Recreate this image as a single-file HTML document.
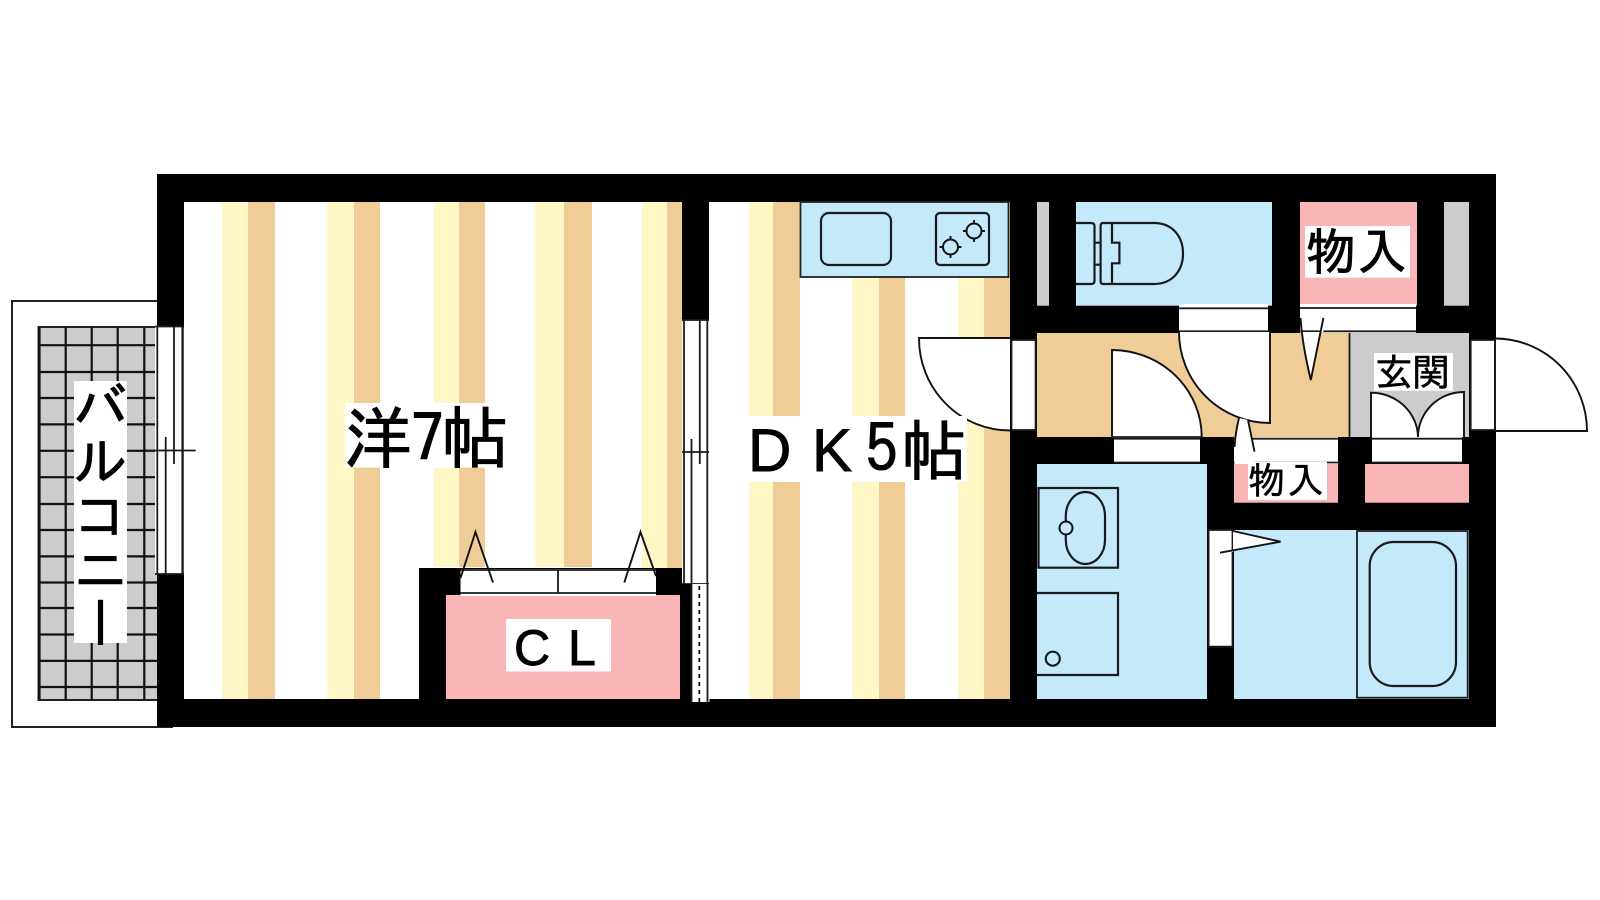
<!DOCTYPE html>
<html lang="ja">
<head>
<meta charset="utf-8">
<title>間取り図</title>
<style>
html,body{margin:0;padding:0;background:#fff;width:1600px;height:900px;overflow:hidden}
svg{display:block;position:absolute;left:0;top:0}
text{font-family:"IPAGothic","Liberation Sans","Noto Sans CJK JP",sans-serif;fill:#000;stroke:#000;stroke-width:.9}
.lat{font-family:"Liberation Sans","IPAGothic",sans-serif}
.s{stroke-width:.5}
.l{fill:none;stroke:#1a1a1a;stroke-width:1.8}
.w{fill:#fff;stroke:#111;stroke-width:1.8}
.k{fill:none;stroke:#111;stroke-width:1.9}
.b{fill:none;stroke:#1a1a1a;stroke-width:2.2}
</style>
</head>
<body>
<svg width="1600" height="900" viewBox="0 0 1600 900" xmlns="http://www.w3.org/2000/svg">
<rect width="1600" height="900" fill="#fff"/>

<!-- balcony -->
<rect x="12" y="301" width="160" height="426" fill="#fff" stroke="#222" stroke-width="2"/>
<rect x="38.5" y="327" width="120" height="373" fill="#ccc" stroke="#222" stroke-width="2"/>
<g stroke="#111" stroke-width="2.2">
<path d="M39.5 327V700M65.7 327V700M91.7 327V700M117.7 327V700M144.3 327V700"/>
<path d="M38 345.2H158M38 372H158M38 398H158M38 424.4H158M38 450.8H158M38 477.2H158M38 504H158M38 530H158M38 556.4H158M38 582.5H158M38 608H158M38 634.5H158M38 660.9H158M38 687H158"/>
</g>

<!-- outer walls -->
<rect x="157" y="174" width="1339" height="553" fill="#000"/>

<!-- west room + stripes -->
<rect x="184" y="202" width="498" height="497" fill="#fff"/>
<g fill="#fff8c6">
<rect x="222" y="202" width="26" height="497"/>
<rect x="327" y="202" width="27" height="497"/>
<rect x="434" y="202" width="25" height="365"/>
<rect x="535" y="202" width="29" height="365"/>
<rect x="642" y="202" width="25" height="366"/>
</g>
<g fill="#f0cc96">
<rect x="248" y="202" width="27" height="497"/>
<rect x="354" y="202" width="26" height="497"/>
<rect x="459" y="202" width="26" height="365"/>
<rect x="564" y="202" width="28" height="365"/>
<rect x="667" y="202" width="15" height="366"/>
</g>

<!-- DK room + stripes -->
<rect x="709" y="202" width="301" height="497" fill="#fff"/>
<rect x="749" y="202" width="24" height="497" fill="#fff8c6"/>
<rect x="773" y="202" width="27" height="497" fill="#f0cc96"/>
<rect x="852" y="202" width="27" height="497" fill="#fff8c6"/>
<rect x="879" y="202" width="26" height="497" fill="#f0cc96"/>
<rect x="958" y="202" width="26" height="497" fill="#fff8c6"/>
<rect x="984" y="202" width="26" height="497" fill="#f0cc96"/>

<!-- kitchen -->
<rect x="800.5" y="202" width="208" height="75" fill="#c3e9fb" stroke="#222" stroke-width="1.8"/>
<rect x="821" y="213" width="70" height="52" rx="8" class="b"/>
<rect x="936" y="213" width="53" height="52" rx="4" class="b"/>
<path d="M974 220V242M963 231H985M950.5 236V258M939.5 247H961.5" class="k"/>
<circle cx="974" cy="231" r="7.5" fill="#c3e9fb" stroke="#111" stroke-width="2"/>
<circle cx="950.5" cy="247" r="7.5" fill="#c3e9fb" stroke="#111" stroke-width="2"/>

<!-- closet CL -->
<rect x="419" y="568" width="263" height="131" fill="#000"/>
<rect x="446" y="595" width="234.7" height="104" fill="#fab6b7"/>
<rect x="460.5" y="569" width="195.5" height="27" fill="#fff"/>
<path d="M460.5 570H656M460.5 593H656M558 570V593" class="l"/>
<path d="M460.5 578 475.5 532 493 582.5" class="k"/>
<path d="M624.3 582.5 640.5 532 656 576" class="k"/>
<rect x="506" y="619" width="105" height="52.5" fill="#fff"/>
<text class="lat" x="514" y="665" font-size="50">C</text>
<text class="lat" x="568" y="665" font-size="50">L</text>

<!-- west window -->
<rect x="155" y="326.5" width="28.5" height="247.5" fill="#fff"/>
<path d="M157.3 326V574M182.3 326V574M155 326.5H183.5M155 574H183.5" class="l"/>
<path d="M174 326V464M165.7 437V574M145 450.5H195.7" class="l"/>

<!-- middle window -->
<rect x="682" y="320" width="27" height="264" fill="#fff"/>
<path d="M684 320V584M707.3 320V584M682 320H709M682 584H709" class="l"/>
<path d="M699.8 320V464M691.5 439V584M682 452H709" class="l"/>
<rect x="680" y="584" width="11.5" height="118" fill="#000"/>
<rect x="691.5" y="584" width="18" height="118" fill="#fff"/>
<path d="M691.5 584V702M707.5 584V702" class="l"/>
<path d="M699.3 586V702" stroke="#111" stroke-width="1.8" stroke-dasharray="4 4" fill="none"/>

<!-- upper right rooms -->
<rect x="1037" y="202" width="12" height="103.7" fill="#ccc"/>
<rect x="1076" y="202" width="196" height="103.7" fill="#c3e9fb"/>
<rect x="1300" y="202" width="117" height="103.7" fill="#fab6b7"/>
<rect x="1444" y="202" width="25" height="103.7" fill="#ccc"/>

<!-- toilet -->
<path d="M1076 223H1091Q1094.5 223 1094.5 226V281Q1094.5 284 1091 284H1076" class="b"/>
<path d="M1094.5 242.7H1100.6M1094.5 264.7H1100.6" class="b"/>
<path d="M1103 223H1154C1172 223 1183 236 1183 253.5C1183 271 1172 284 1154 284H1103Q1100.6 284 1100.6 281V226Q1100.6 223 1103 223Z" class="b"/>
<path d="M1112 223V242.7H1119.4V263.3H1112V284" class="b"/>

<!-- hall & entry -->
<rect x="1037" y="333" width="312" height="104" fill="#f0cc96"/>
<rect x="1350" y="333" width="119" height="104" fill="#ccc"/>
<path d="M1349.5 333V437" class="l"/>

<!-- doors: toilet -->
<rect x="1179" y="304" width="89" height="28" fill="#fff"/>
<path d="M1179 308.3H1268M1179 331.3H1270" class="l"/>
<path d="M1179 332A91 91 0 0 0 1270 423V332Z" fill="#fff"/>
<path d="M1179 332A91 91 0 0 0 1270 423V332" class="k"/>

<!-- doors: upper closet -->
<rect x="1300" y="304" width="116" height="29" fill="#fff"/>
<path d="M1300 308H1416M1300 331.3H1416" class="l"/>
<path d="M1300.5 318C1302 340 1306 360 1310.8 380L1323.4 318V332H1300.5Z" fill="#fff"/>
<path d="M1300.5 318C1302 340 1306 360 1310.8 380L1323.4 318" class="k"/>

<!-- wash room -->
<rect x="1037" y="464" width="170" height="235" fill="#c3e9fb"/>
<rect x="1038.5" y="488" width="79.5" height="79.7" class="b"/>
<rect x="1065.8" y="492" width="39.2" height="72" rx="19.6" ry="24" class="b"/>
<circle cx="1066" cy="528" r="6.5" fill="#c3e9fb" stroke="#111" stroke-width="2"/>
<path d="M1037 593H1118V675H1037" class="b"/>
<circle cx="1052.8" cy="658.7" r="7" class="b"/>

<!-- door: wash from hall -->
<rect x="1114" y="437" width="86" height="26" fill="#fff"/>
<path d="M1114 438.7H1200M1114 462.5H1200" class="l"/>
<path d="M1112 350A90 87 0 0 1 1201.7 437H1112Z" fill="#fff"/>
<path d="M1201.7 437A90 87 0 0 0 1112 350V437" class="k"/>
<path d="M1112 437H1201.7" class="l"/>

<!-- lower closets -->
<rect x="1234" y="437" width="104" height="27" fill="#fff"/>
<path d="M1234 438.7H1338M1234 462.5H1338" class="l"/>
<rect x="1234" y="464" width="104" height="38.7" fill="#fab6b7"/>
<rect x="1365" y="464" width="104" height="38.7" fill="#fab6b7"/>
<path d="M1234.5 447Q1235.5 432 1239 418L1248 420 1254.5 451.7V464H1234.5Z" fill="#fff"/>
<path d="M1234.5 447Q1235.5 432 1239 418M1248 420 1254.5 451.7" class="k"/>

<!-- entry double doors -->
<rect x="1372" y="437" width="90" height="26" fill="#fff"/>
<path d="M1372 438.7H1462M1372 462.5H1462" class="l"/>
<path d="M1371 392.7A47 45 0 0 1 1418 437H1371Z" fill="#fff"/>
<path d="M1464 392A46 45 0 0 0 1418 437H1464Z" fill="#fff"/>
<path d="M1371 437V392.7A47 45 0 0 1 1418 437A46 45 0 0 1 1464 392V437" class="k"/>

<!-- bath -->
<rect x="1234" y="530" width="235" height="169" fill="#c3e9fb"/>
<rect x="1357" y="531" width="110.7" height="166.7" class="l"/>
<rect x="1369.7" y="542" width="86.3" height="144" rx="24" class="b"/>
<rect x="1208.6" y="530" width="24" height="116.7" fill="#fff"/>
<path d="M1208.6 530V646.7H1232.5V530M1207 530H1233" class="l"/>
<path d="M1233 531 1280.5 541.7 1220 552.7 1233 552Z" fill="#fff"/>
<path d="M1233 531 1280.5 541.7 1220 552.7" class="k"/>

<!-- DK door -->
<rect x="1011" y="340" width="25" height="90" fill="#fff"/>
<path d="M1011.5 340V430.5M1035.6 340V430M1011 340H1036M1011 430H1036" class="l"/>
<path d="M919 338H1010V430.5A91 92 0 0 1 919 338Z" fill="#fff"/>
<path d="M1010 338H919A91 92 0 0 0 1010 430.5" class="k"/>

<!-- front door -->
<rect x="1470.7" y="340" width="24.5" height="90" fill="#fff"/>
<path d="M1470.7 340V430M1495 338V431M1470.7 340H1495M1470.7 430H1495" class="l"/>
<path d="M1495 338.5A92 92.5 0 0 1 1587 431H1495Z" fill="#fff"/>
<path d="M1495 431V338.5A92 92.5 0 0 1 1587 431H1495" class="k"/>

<!-- labels -->
<rect x="74" y="381" width="53" height="262" fill="#fff"/>
<text x="100.5" y="379" font-size="54" style="writing-mode:vertical-rl;text-orientation:upright">バルコニー</text>

<rect x="345" y="403" width="160" height="64.6" fill="#fff"/>
<text x="344" y="463" font-size="68">洋</text>
<text x="411" y="462" font-size="66">7</text>
<text x="441" y="463" font-size="68">帖</text>

<rect x="749" y="416" width="218" height="66" fill="#fff"/>
<text class="lat" x="748" y="471" font-size="60">D</text>
<text class="lat" x="812" y="471" font-size="60">K</text>
<text x="865" y="472" font-size="66">5</text>
<text x="901" y="475" font-size="66">帖</text>

<rect x="1305" y="226" width="105" height="51.7" fill="#fff"/>
<text x="1306" y="270" font-size="50">物</text>
<text x="1357" y="270" font-size="50">入</text>

<rect x="1374" y="353" width="79" height="37.7" fill="#fff"/>
<text class="s" x="1375" y="386" font-size="38">玄</text>
<text class="s" x="1412" y="386" font-size="38">関</text>

<rect x="1248" y="461.7" width="79" height="38.3" fill="#fff"/>
<text class="s" x="1248" y="494" font-size="37">物</text>
<text class="s" x="1287" y="494" font-size="37">入</text>
</svg>
</body>
</html>
